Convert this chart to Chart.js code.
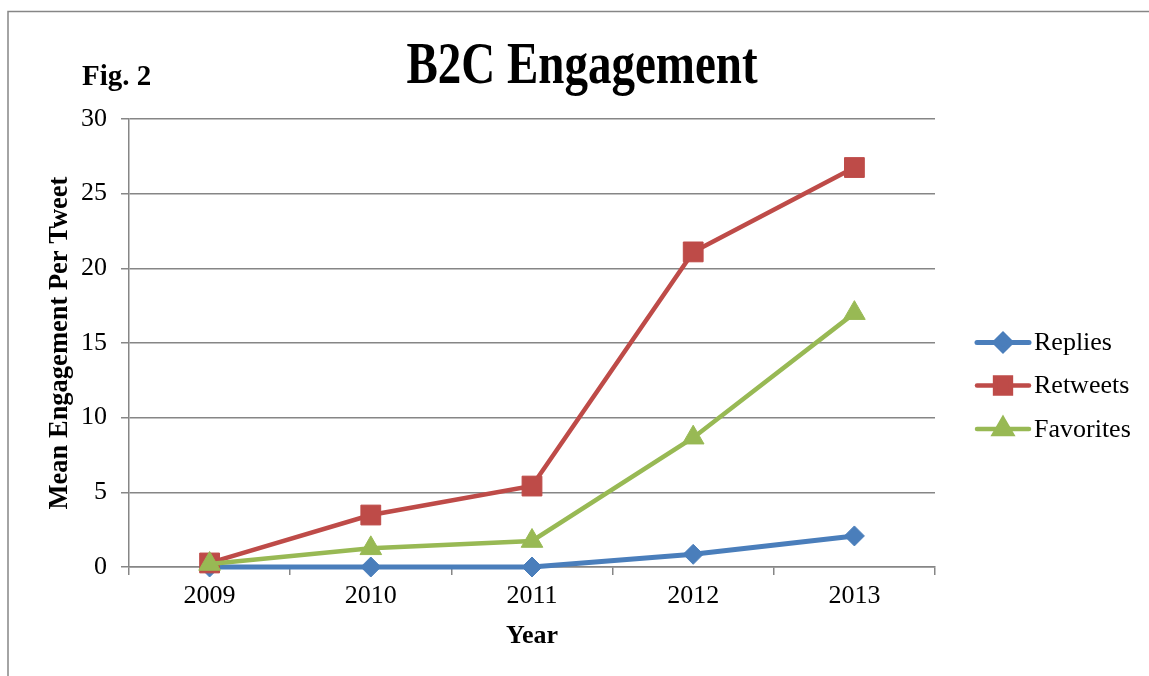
<!DOCTYPE html>
<html>
<head>
<meta charset="utf-8">
<title>B2C Engagement</title>
<script src="https://cdn.jsdelivr.net/npm/chart.js@4/dist/chart.umd.min.js"></script>
<style>
  html, body { margin: 0; padding: 0; background: #fff; }
  #wrap { width: 1149px; height: 676px; }
</style>
</head>
<body>
<div id="wrap"><canvas id="b2cChart" width="1149" height="676"></canvas></div>
<script>
// 資料
const years = ['2009', '2010', '2011', '2012', '2013'];
const replies = [0.0, 0.0, 0.0, 0.85, 2.08];
const retweets = [0.27, 3.48, 5.42, 21.1, 26.75];
const favorites = [0.2, 1.25, 1.74, 8.66, 17.0];
const yTicks = [0, 5, 10, 15, 20, 25, 30];

const serif = "'Liberation Serif', 'Times New Roman', serif";
const gridGray = '#868686';

// 標題、外框、圖例（手動繪製）
const decorPlugin = {
    id: 'decor',
    afterDraw: function(chart) {
        const ctx = chart.ctx;
        ctx.save();

        // 外框
        ctx.strokeStyle = gridGray;
        ctx.lineWidth = 1.5;
        ctx.beginPath();
        ctx.moveTo(8, 676);
        ctx.lineTo(8, 11.5);
        ctx.lineTo(1149, 11.5);
        ctx.stroke();

        // 主標題（原圖略為拉高）
        ctx.fillStyle = '#000';
        ctx.textAlign = 'center';
        ctx.textBaseline = 'alphabetic';
        ctx.save();
        ctx.translate(582, 83);
        ctx.scale(1, 1.25);
        ctx.font = 'bold 47px ' + serif;
        ctx.fillText('B2C Engagement', 0, 0);
        ctx.restore();

        // Fig. 2
        ctx.textAlign = 'left';
        ctx.font = 'bold 29px ' + serif;
        ctx.fillText('Fig. 2', 82, 85);

        // 圖例
        const rows = [342.5, 385.5, 429];
        chart.data.datasets.forEach(function(ds, i) {
            const y = rows[i];
            ctx.strokeStyle = ds.borderColor;
            ctx.lineWidth = ds.borderWidth;
            ctx.lineCap = 'round';
            ctx.beginPath();
            ctx.moveTo(977, y);
            ctx.lineTo(1029, y);
            ctx.stroke();
            ctx.fillStyle = ds.pointBackgroundColor;
            ctx.strokeStyle = ds.pointBackgroundColor;
            Chart.helpers.drawPoint(ctx, {
                pointStyle: ds.pointStyle,
                radius: ds.pointRadius * 0.8,
                rotation: 0,
                borderWidth: 1
            }, 1003, y);
            ctx.fillStyle = '#000';
            ctx.font = '26px ' + serif;
            ctx.textBaseline = 'middle';
            ctx.fillText(ds.label, 1034, y + 1);
        });

        ctx.restore();
    }
};

const ctx = document.getElementById('b2cChart');
new Chart(ctx, {
    type: 'line',
    data: {
        labels: years,
        datasets: [{
            label: 'Replies',
            data: replies,
            borderColor: '#4A7EBB',
            backgroundColor: '#4A7EBB',
            pointBackgroundColor: '#4A7EBB',
            pointBorderColor: '#4A7EBB',
            borderWidth: 5,
            pointStyle: 'rectRot',
            pointRadius: 10,
            pointBorderWidth: 1,
            order: 2,
            clip: false
        }, {
            label: 'Retweets',
            data: retweets,
            borderColor: '#BE4B48',
            backgroundColor: '#BE4B48',
            pointBackgroundColor: '#BE4B48',
            pointBorderColor: '#BE4B48',
            borderWidth: 4.5,
            pointStyle: 'rect',
            pointRadius: 14,
            pointBorderWidth: 1,
            order: 1,
            clip: false
        }, {
            label: 'Favorites',
            data: favorites,
            borderColor: '#98B954',
            backgroundColor: '#98B954',
            pointBackgroundColor: '#98B954',
            pointBorderColor: '#98B954',
            borderWidth: 4.5,
            pointStyle: 'triangle',
            pointRadius: 12.5,
            pointBorderWidth: 1,
            order: 0,
            clip: false
        }]
    },
    options: {
        responsive: false,
        animation: false,
        events: [],
        layout: {
            padding: { top: 119, right: 214, bottom: 0, left: 0 }
        },
        plugins: {
            legend: { display: false },
            title: { display: false },
            tooltip: { enabled: false }
        },
        scales: {
            x: {
                offset: true,
                grid: {
                    offset: true,
                    drawOnChartArea: false,
                    color: gridGray,
                    lineWidth: 1.5,
                    tickLength: 8
                },
                border: { color: gridGray, width: 1.5 },
                ticks: {
                    color: '#000',
                    padding: 6,
                    font: { family: serif, size: 26 }
                },
                title: {
                    display: true,
                    text: 'Year',
                    color: '#000',
                    font: { family: serif, size: 26, weight: 'bold' },
                    padding: { top: 0, bottom: 24 }
                },
                afterFit: function(scale) { scale.height = 109; }
            },
            y: {
                min: yTicks[0],
                max: yTicks[yTicks.length - 1],
                afterBuildTicks: function(scale) {
                    scale.ticks = yTicks.map(v => ({ value: v }));
                },
                grid: {
                    color: gridGray,
                    lineWidth: 1.5,
                    tickLength: 8
                },
                border: { color: gridGray, width: 1.5 },
                ticks: {
                    color: '#000',
                    padding: 14,
                    font: { family: serif, size: 26 }
                },
                title: {
                    display: true,
                    text: 'Mean Engagement Per Tweet',
                    color: '#000',
                    font: { family: serif, size: 26.5, weight: 'bold' },
                    padding: { top: 44, bottom: 0 }
                },
                afterFit: function(scale) { scale.width = 129; }
            }
        }
    },
    plugins: [decorPlugin]
});
</script>
</body>
</html>
